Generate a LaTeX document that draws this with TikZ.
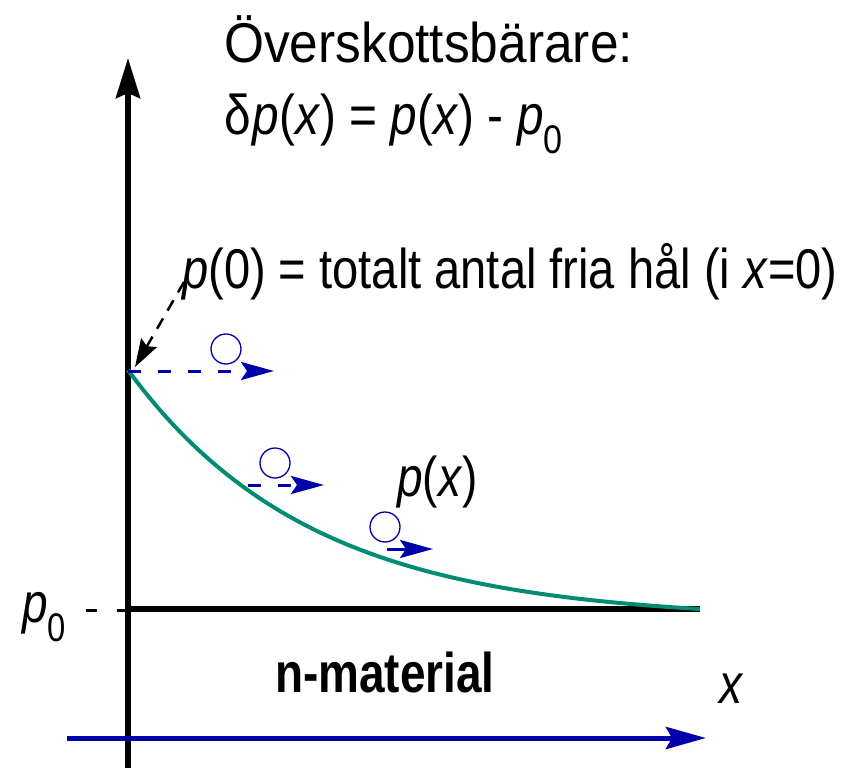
\documentclass[tikz,border=0pt]{standalone}
\usepackage{fontspec}
\setmainfont{Liberation Sans}[FakeStretch=0.82]
\usetikzlibrary{arrows.meta}
\definecolor{dblue}{RGB}{0,0,170}
\definecolor{teal1}{RGB}{0,140,115}
\newcommand{\subz}{\raisebox{-19pt}{\fontsize{40}{44}\selectfont 0}}
\begin{document}
\begin{tikzpicture}[x=1pt,y=-1pt,
  lbl/.style={inner sep=0pt,font=\fontsize{56}{62}\selectfont},
  hole/.style={draw=dblue,line width=1.3pt,circle,minimum size=30pt,inner sep=0pt},
  flow/.style={dblue,line width=3pt,dash pattern=on 13pt off 17pt,-{Stealth[length=33pt,width=18pt,inset=6pt]}}]
\useasboundingbox (0,0) rectangle (863,768);
% axes
\coordinate (ybot) at (128,768);
\coordinate (ytop) at (128,58);
\draw[line width=6pt,-{Stealth[length=40pt,width=24pt,inset=5pt]}] (ybot) -- (ytop);
\coordinate (h0) at (125,609);
\coordinate (h1) at (700,609);
\draw[line width=6pt] (h0) -- (h1);
\coordinate (b0) at (67,738);
\coordinate (b1) at (706,738);
\draw[dblue,line width=5pt,-{Stealth[length=40pt,width=22pt,inset=6pt]}] (b0) -- (b1);
% p0 tick
\coordinate (t0) at (86,610);
\coordinate (t1) at (128,610);
\draw[line width=3pt,dash pattern=on 11pt off 20pt] (t0) -- (t1);
\node[lbl,anchor=base west] (p0) at (22,622) {\itshape p\/\upshape\subz};
% curve
\draw[teal1,line width=4pt] plot[domain=128:700,samples=80,smooth] (\x,{609-239*(exp(-(\x-128)/183)-0.044)/0.956});
% flows
\coordinate (f1a) at (128,371); \coordinate (f1b) at (274,371);
\draw[flow] (f1a) -- (f1b);
\coordinate (f2a) at (248,485); \coordinate (f2b) at (324,485);
\draw[flow] (f2a) -- (f2b);
\coordinate (f3a) at (387,549); \coordinate (f3b) at (433,549);
\draw[flow,dash pattern=on 20pt off 2pt] (f3a) -- (f3b);
\node[hole] (c1) at (226,349) {};
\node[hole] (c2) at (275,463) {};
\node[hole] (c3) at (385,527) {};
% labels
\node[lbl,anchor=base west] (title) at (224,63) {\scalebox{1.12}[1]{Överskottsbärare:}};
\node[lbl,anchor=base west] (eq) at (224,135) {\scalebox{1.04}[1]{δ\kern2pt\itshape p\/\upshape(\itshape x\/\upshape) = \itshape p\/\upshape(\itshape x\/\upshape) - \itshape p\/\upshape\subz}};
\node[lbl,anchor=base west] (p0lbl) at (182,288) {\scalebox{1.025}[1]{\itshape p\/\upshape(0) = totalt antal fria hål (i \itshape x\/\upshape=0)}};
\node[lbl,anchor=base west] (px) at (397,496) {\itshape p\/\upshape(\itshape x\/\upshape)};
\node[lbl,anchor=base,font=\fontsize{56}{62}\selectfont\bfseries] (nm) at (385,692) {n-material};
\node[lbl,anchor=base] (xl) at (731,703) {\itshape x};
% pointer
\coordinate (pa) at (184,282);
\coordinate (pb) at (135,367);
\draw[line width=2.5pt,dash pattern=on 12pt off 9pt,-{Stealth[length=28pt,width=18pt,inset=4pt]}] (pa) -- (pb);
\end{tikzpicture}
\end{document}
